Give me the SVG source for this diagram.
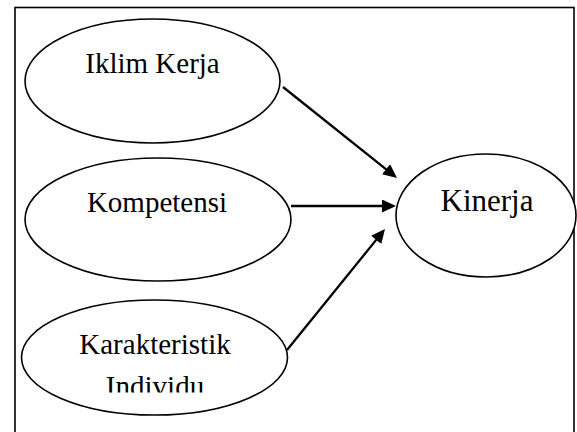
<svg xmlns="http://www.w3.org/2000/svg" width="577" height="432" viewBox="0 0 577 432">
  <style>
    .node ellipse { fill: #ffffff; stroke: #000000; stroke-width: 1.6; }
    .label { font-family: "Liberation Serif", "Times New Roman", serif; font-size: 29px; fill: #000000; text-anchor: middle; }
    .conn line { stroke: #000000; stroke-width: 2.3; fill: none; }
  </style>
  <defs>
    <marker id="arrow" viewBox="0 0 14 13" refX="9" refY="6.5" markerWidth="14" markerHeight="13" markerUnits="userSpaceOnUse" orient="auto">
      <path d="M0,0 L14,6.5 L0,13 z" fill="#000000"/>
    </marker>
    <clipPath id="clipBottom">
      <rect x="0" y="0" width="577" height="392.5"/>
    </clipPath>
  </defs>
  <rect id="frame" x="15" y="7.5" width="559" height="440" fill="#ffffff" stroke="#000000" stroke-width="1.6"/>
  <g id="iklim-kerja" class="node">
    <ellipse cx="152.5" cy="81" rx="127.5" ry="62"/>
    <text class="label" x="152.5" y="73">Iklim Kerja</text>
  </g>
  <g id="kompetensi" class="node">
    <ellipse cx="158" cy="219.5" rx="133" ry="61.5"/>
    <text class="label" x="157" y="212">Kompetensi</text>
  </g>
  <g id="karakteristik-individu" class="node">
    <ellipse cx="154.5" cy="357.5" rx="133" ry="57.5"/>
    <g clip-path="url(#clipBottom)">
      <text class="label" x="155" y="353.5">Karakteristik</text>
      <text class="label" x="155" y="396">Individu</text>
    </g>
  </g>
  <g id="kinerja" class="node">
    <ellipse cx="486" cy="215.5" rx="90" ry="61.5"/>
    <text class="label" x="487" y="210.7" style="font-size:31px">Kinerja</text>
  </g>
  <g id="connectors" class="conn">
    <line x1="283" y1="87" x2="393.1" y2="174.9" marker-end="url(#arrow)"/>
    <line x1="291" y1="206" x2="391" y2="206" marker-end="url(#arrow)"/>
    <line x1="287" y1="350" x2="381.85" y2="232.9" marker-end="url(#arrow)"/>
  </g>
</svg>
